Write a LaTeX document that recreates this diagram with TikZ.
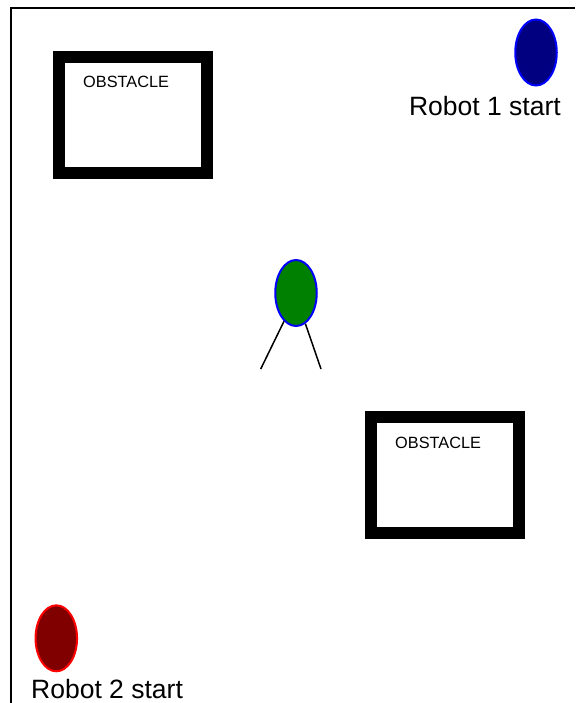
\documentclass[tikz,border=0pt]{standalone}
\usepackage{fontspec}
\setmainfont{Liberation Sans}
\usetikzlibrary{shapes, positioning, calc}
\definecolor{robotnavy}{RGB}{0, 0, 128}
\definecolor{robotgreen}{RGB}{0, 128, 0}
\definecolor{robotmaroon}{RGB}{128, 0, 0}

\begin{document}
\begin{tikzpicture}[
  x=1pt, y=-1pt,
  obstacle/.style={rectangle, draw=black, line width=12pt, fill=white,
                   minimum width=148pt, minimum height=116pt, inner sep=0pt},
  obstext/.style={font=\fontsize{16.3}{19}\selectfont, inner sep=0pt, anchor=base west},
  robot/.style={ellipse, line width=2pt, minimum width=41.5pt, minimum height=66pt, inner sep=0pt},
  robotlabel/.style={font=\fontsize{26.5}{31}\selectfont, inner sep=0pt},
  leg/.style={line width=1.5pt}
]
  \useasboundingbox (0,0) rectangle (575,703);
  % frame
  \draw[line width=2.4pt] (11,703) -- (11,8) -- (575,8);

  % obstacles
  \node[obstacle] (obs1) at (133,115) {};
  \node[obstext] at ([shift={(30,37)}]obs1.north west) {OBSTACLE};
  \node[obstacle] (obs2) at (445,475) {};
  \node[obstext] at ([shift={(30,37)}]obs2.north west) {OBSTACLE};

  % robots
  \node[robot, draw=blue, fill=robotnavy] (r1) at (536,52.5) {};
  \node[robotlabel, anchor=base east] (lbl1) at (561,116) {Robot 1 start};
  \node[robotlabel, anchor=base west] (lbl2) at (31,698) {Robot 2 start};
  \node[robot, draw=red, fill=robotmaroon] (r2) at (56.3,638.3) {};

  % robot in the middle
  \node[robot, draw=blue, fill=robotgreen] (r0) at (296,293) {};
  \coordinate (legl) at (260.7,369);
  \coordinate (legr) at (321,369);
  \draw[leg] (r0.247) -- (legl);
  \draw[leg] (r0.287) -- (legr);
\end{tikzpicture}
\end{document}
